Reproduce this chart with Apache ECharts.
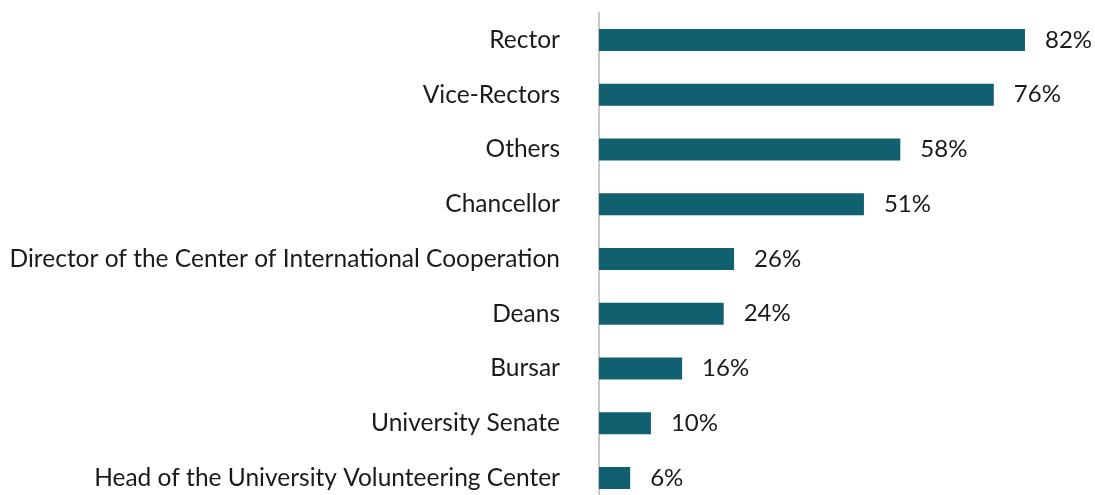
<!DOCTYPE html>
<html>
<head>
<meta charset="utf-8">
<script src="https://cdn.jsdelivr.net/npm/echarts@6/dist/echarts.min.js"></script>
<style>
html,body{margin:0;padding:0;background:#fff;overflow:hidden;}
#chart{width:1095px;height:506px;}
</style>
</head>
<body>
<div id="chart"></div>
<script>
const categories = [
  "Rector",
  "Vice-Rectors",
  "Others",
  "Chancellor",
  "Director of the Center of International Cooperation",
  "Deans",
  "Bursar",
  "University Senate",
  "Head of the University Volunteering Center"
];
const values = [82, 76, 58, 51, 26, 24, 16, 10, 6];

const chart = echarts.init(document.getElementById('chart'), null, {renderer: 'canvas'});
chart.setOption({
  animation: false,
  backgroundColor: '#ffffff',
  grid: {left: 599, top: 12.6, width: 493.5, height: 492.75, containLabel: false},
  xAxis: {
    type: 'value', min: 0, max: 95,
    show: false
  },
  yAxis: {
    type: 'category',
    data: categories,
    inverse: true,
    axisLine: {show: true, lineStyle: {color: '#c8c8c8', width: 2}},
    axisTick: {show: false},
    axisLabel: {
      margin: 39,
      fontFamily: 'Lato',
      fontSize: 24.5,
      color: '#1a1a1a'
    }
  },
  series: [{
    type: 'bar',
    data: values,
    barWidth: 22,
    itemStyle: {color: '#10606f'},
    label: {
      show: true,
      position: 'right',
      distance: 20,
      formatter: '{c}%',
      fontFamily: 'Lato',
      fontSize: 24,
      color: '#1a1a1a'
    }
  }]
});
</script>
</body>
</html>
